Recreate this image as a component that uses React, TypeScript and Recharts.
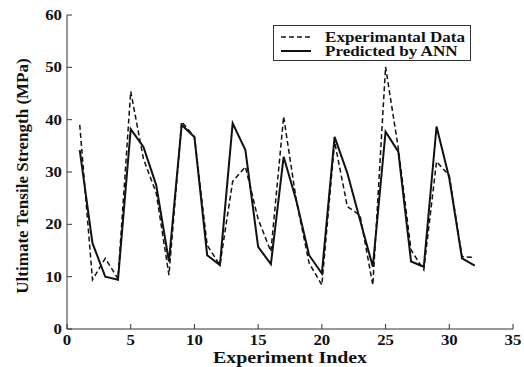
import { LineChart, Line, XAxis, YAxis, Legend } from 'recharts';

const experimentIndex = [
  1, 2, 3, 4, 5, 6, 7, 8, 9, 10, 11, 12, 13, 14, 15, 16,
  17, 18, 19, 20, 21, 22, 23, 24, 25, 26, 27, 28, 29, 30, 31, 32,
];
const experimental = [
  39.0, 9.4, 13.5, 9.6, 45.4, 32.5, 26.0, 10.3, 39.6, 36.7, 16.0, 12.2, 28.2, 31.0, 21.0, 14.8,
  40.6, 24.5, 12.6, 8.4, 35.8, 23.4, 21.7, 8.4, 50.1, 34.5, 15.1, 11.3, 32.0, 29.3, 13.8, 13.7,
];
const predicted = [
  34.2, 16.4, 10.0, 9.4, 38.2, 34.8, 27.5, 12.9, 39.0, 36.7, 14.1, 12.2, 39.3, 34.2, 15.7, 12.4,
  32.9, 24.5, 14.1, 10.6, 36.7, 29.8, 20.8, 11.9, 37.7, 33.9, 12.9, 11.9, 38.7, 28.8, 13.5, 12.1,
];
const xTicks = [0, 5, 10, 15, 20, 25, 30, 35];
const yTicks = [0, 10, 20, 30, 40, 50, 60];
const seriesNames = ['Experimantal Data', 'Predicted by ANN'];

const FONT = "'Liberation Serif', 'DejaVu Serif', 'Times New Roman', Times, serif";
const AXIS = '#333';
const INK = '#111';
const TICK_LEN = 5;

const data = experimentIndex.map((idx, i) => ({
  idx,
  experimental: experimental[i],
  predicted: predicted[i],
}));

// the original's lettering is a bit wide, so text gets a horizontal stretch
const SText = ({ x, y, size, anchor = 'start', sx = 1, rotate = 0, children }: any) => (
  <text
    transform={`translate(${x} ${y}) rotate(${rotate}) scale(${sx} 1)`}
    textAnchor={anchor}
    fill={INK}
    style={{ fontFamily: FONT, fontWeight: 'bold', fontSize: size }}
  >
    {children}
  </text>
);

// ticks drawn inward, matlab style
const BottomTick = ({ x, y, payload }: any) => (
  <g>
    <line x1={x} y1={y} x2={x} y2={y - TICK_LEN} stroke={AXIS} />
    <SText x={x} y={y + 16} size={15} sx={1.12} anchor="middle">{payload.value}</SText>
  </g>
);
const TopTick = ({ x, y }: any) => <line x1={x} y1={y} x2={x} y2={y + TICK_LEN} stroke={AXIS} />;
const LeftTick = ({ x, y, payload }: any) => (
  <g>
    <line x1={x} y1={y} x2={x + TICK_LEN} y2={y} stroke={AXIS} />
    <SText x={x - 5} y={y + 5} size={15} sx={1.12} anchor="end">{payload.value}</SText>
  </g>
);
const RightTick = ({ x, y }: any) => <line x1={x} y1={y} x2={x - TICK_LEN} y2={y} stroke={AXIS} />;

const xLabel = ({ viewBox }: any) => (
  <SText x={viewBox.x + viewBox.width / 2} y={viewBox.y + 34} size={17} sx={1.17} anchor="middle">
    Experiment Index
  </SText>
);
const yLabel = ({ viewBox }: any) => (
  <SText x={viewBox.x + 28} y={viewBox.y + viewBox.height / 2 + 4} size={17} rotate={-90} anchor="middle">
    Ultimate Tensile Strength (MPa)
  </SText>
);

const LegendBox = () => (
  <svg width={199} height={37} style={{ display: 'block' }}>
    <rect x={0.5} y={0.5} width={197} height={35} fill="#fff" stroke={AXIS} />
    <line x1={8} y1={12} x2={38} y2={12} stroke={INK} strokeWidth={1.5} strokeDasharray="5 3" />
    <line x1={8} y1={26} x2={38} y2={26} stroke={INK} strokeWidth={2} />
    <SText x={52} y={17} size={15} sx={1.14}>{seriesNames[0]}</SText>
    <SText x={52} y={31} size={15} sx={1.14}>{seriesNames[1]}</SText>
  </svg>
);

export default function App() {
  return (
    <div style={{ position: 'absolute', left: 0, top: 0, background: '#fff' }}>
      <LineChart width={524} height={367} data={data} margin={{ top: 15, right: 11, bottom: 0, left: 0 }}>
        <XAxis
          dataKey="idx"
          type="number"
          domain={[0, 35]}
          ticks={xTicks}
          interval={0}
          height={38}
          tickSize={0}
          tickMargin={0}
          stroke={AXIS}
          tick={<BottomTick />}
          label={xLabel}
        />
        <XAxis
          xAxisId="top"
          orientation="top"
          dataKey="idx"
          type="number"
          domain={[0, 35]}
          ticks={xTicks}
          interval={0}
          height={0}
          tickSize={0}
          tickMargin={0}
          stroke={AXIS}
          tick={<TopTick />}
        />
        <YAxis
          type="number"
          domain={[0, 60]}
          ticks={yTicks}
          interval={0}
          width={67}
          tickSize={0}
          tickMargin={0}
          stroke={AXIS}
          tick={<LeftTick />}
          label={yLabel}
        />
        <YAxis
          yAxisId="right"
          orientation="right"
          type="number"
          domain={[0, 60]}
          ticks={yTicks}
          interval={0}
          width={0}
          tickSize={0}
          tickMargin={0}
          stroke={AXIS}
          tick={<RightTick />}
        />
        <Legend
          layout="vertical"
          verticalAlign="middle"
          align="center"
          content={<LegendBox />}
          wrapperStyle={{ position: 'absolute', left: 273, top: 25, width: 'auto' }}
        />
        <Line
          dataKey="experimental"
          name={seriesNames[0]}
          type="linear"
          stroke={INK}
          strokeWidth={1.5}
          strokeDasharray="5 3"
          dot={false}
          isAnimationActive={false}
        />
        <Line
          dataKey="predicted"
          name={seriesNames[1]}
          type="linear"
          stroke={INK}
          strokeWidth={2}
          dot={false}
          isAnimationActive={false}
        />
      </LineChart>
    </div>
  );
}
